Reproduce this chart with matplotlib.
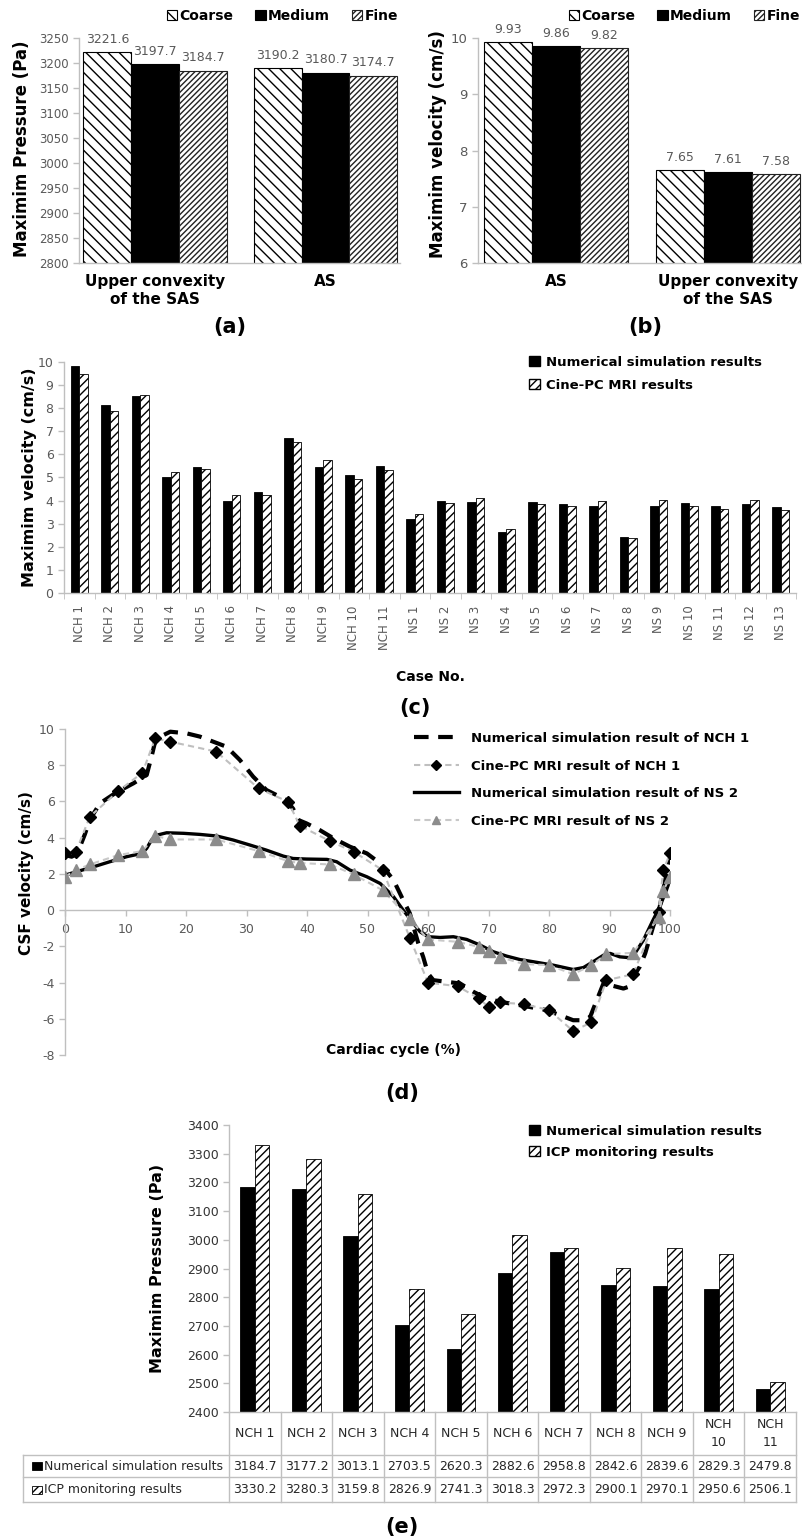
import matplotlib
matplotlib.use("Agg")
import matplotlib.pyplot as plt
from matplotlib.patches import Rectangle, Patch
from matplotlib.lines import Line2D
import numpy as np

plt.rcParams['font.family'] = ['DejaVu Sans']
plt.rcParams['hatch.linewidth'] = 1.0
plt.rcParams['axes.unicode_minus'] = False

# ---------------- data ----------------
mesh_levels = ['Coarse', 'Medium', 'Fine']

pressure_sites = ['Upper convexity\nof the SAS', 'AS']
pressure_coarse = [3221.6, 3190.2]
pressure_medium = [3197.7, 3180.7]
pressure_fine = [3184.7, 3174.7]

velocity_sites = ['AS', 'Upper convexity\nof the SAS']
velocity_coarse = [9.93, 7.65]
velocity_medium = [9.86, 7.61]
velocity_fine = [9.82, 7.58]

cases = ['NCH 1', 'NCH 2', 'NCH 3', 'NCH 4', 'NCH 5', 'NCH 6', 'NCH 7', 'NCH 8',
         'NCH 9', 'NCH 10', 'NCH 11', 'NS 1', 'NS 2', 'NS 3', 'NS 4', 'NS 5',
         'NS 6', 'NS 7', 'NS 8', 'NS 9', 'NS 10', 'NS 11', 'NS 12', 'NS 13']
vel_sim = [9.81, 8.13, 8.52, 5.00, 5.47, 4.00, 4.39, 6.72, 5.47, 5.11, 5.50,
           3.21, 4.00, 3.96, 2.65, 3.96, 3.87, 3.78, 2.42, 3.78, 3.90, 3.76, 3.87, 3.71]
vel_mri = [9.47, 7.88, 8.55, 5.25, 5.37, 4.26, 4.26, 6.55, 5.76, 4.92, 5.32,
           3.40, 3.90, 4.10, 2.75, 3.87, 3.76, 4.00, 2.37, 4.03, 3.76, 3.64, 4.03, 3.61]

mri_cycle = [0, 1.8, 4.1, 8.8, 12.8, 14.9, 17.4, 25.0, 32.0, 36.9, 38.8, 43.8, 47.7,
             52.5, 57.0, 60.0, 64.9, 68.4, 70.0, 71.9, 75.9, 80.0, 84.0, 87.0, 89.5,
             93.9, 98.1, 98.9, 100]
mri_nch1 = [3.13, 3.22, 5.16, 6.57, 7.59, 9.48, 9.30, 8.75, 6.72, 5.98, 4.66, 3.81, 3.22,
            2.21, -1.53, -4.01, -4.20, -4.88, -5.34, -5.10, -5.19, -5.52, -6.68, -6.20, -3.87,
            -3.54, -0.10, 2.21, 3.13]
mri_ns2 = [1.84, 2.21, 2.52, 3.04, 3.26, 4.10, 3.90, 3.90, 3.26, 2.70, 2.60, 2.52, 1.97,
           1.10, -0.50, -1.62, -1.75, -2.03, -2.25, -2.60, -2.98, -3.04, -3.54, -3.04, -2.43,
           -2.36, -0.40, 1.07, 1.84]

sim_nch1_cycle = [0, 1.1, 2.0, 3.3, 4.1, 5.8, 8.5, 11.3, 13.5, 14.3, 14.9, 16.3, 17.4, 20.1,
                  22.3, 26.7, 28.9, 31.1, 33.3, 36.6, 37.7, 38.6, 39.9, 42.1, 44.4, 47.1,
                  49.9, 52.1, 54.3, 55.9, 57.0, 57.6, 58.4, 59.2, 60.0, 60.9, 63.1, 65.3,
                  67.5, 69.7, 71.9, 75.2, 79.6, 81.8, 84.0, 85.7, 86.8, 87.9, 89.0, 90.1,
                  92.3, 93.1, 93.9, 95.0, 95.9, 97.2, 98.3, 99.2, 100]
sim_nch1 = [3.04, 2.95, 3.10, 4.20, 5.00, 5.90, 6.50, 7.00, 7.46, 8.47, 9.30, 9.67, 9.85, 9.76,
            9.58, 9.02, 8.29, 7.37, 6.63, 6.08, 5.60, 4.97, 4.79, 4.42, 3.96, 3.50,
            3.13, 2.58, 1.66, 0.55, -0.18, -0.92, -1.84, -2.58, -3.50, -3.87, -3.96, -4.05,
            -4.51, -4.88, -5.06, -5.25, -5.52, -5.80, -6.08, -6.08, -5.90, -4.97, -4.05, -4.14,
            -4.33, -4.24, -3.68, -3.13, -2.39, -0.92, 0.18, 1.66, 2.90]

sim_ns2_cycle = [0, 1.9, 4.7, 7.4, 10.2, 12.7, 13.5, 14.3, 15.2, 16.8, 19.6, 22.3, 25.1, 27.8,
                 30.6, 33.3, 36.1, 37.7, 39.9, 43.3, 44.9, 47.1, 49.9, 52.1, 54.3, 55.9, 57.6,
                 58.7, 60.0, 62.0, 64.2, 66.4, 68.6, 70.8, 73.0, 75.2, 77.4, 80.7, 84.0, 85.7,
                 87.3, 89.0, 90.1, 91.7, 93.4, 94.2, 95.6, 97.2, 98.3, 99.4, 100]
sim_ns2 = [1.93, 2.12, 2.39, 2.67, 2.95, 3.13, 3.41, 3.87, 4.14, 4.27, 4.24, 4.18, 4.09, 3.87,
           3.59, 3.31, 2.98, 2.85, 2.82, 2.80, 2.67, 2.21, 1.84, 1.47, 0.74, 0.00, -0.74,
           -1.20, -1.47, -1.51, -1.47, -1.62, -1.93, -2.30, -2.54, -2.73, -2.85, -3.04, -3.28, -3.17,
           -2.85, -2.49, -2.39, -2.58, -2.63, -2.39, -1.66, -0.55, 0.18, 1.10, 1.66]

icp_cases = ['NCH 1', 'NCH 2', 'NCH 3', 'NCH 4', 'NCH 5', 'NCH 6', 'NCH 7', 'NCH 8',
             'NCH 9', 'NCH 10', 'NCH 11']
icp_sim = [3184.7, 3177.2, 3013.1, 2703.5, 2620.3, 2882.6, 2958.8, 2842.6, 2839.6, 2829.3, 2479.8]
icp_meas = [3330.2, 3280.3, 3159.8, 2826.9, 2741.3, 3018.3, 2972.3, 2900.1, 2970.1, 2950.6, 2506.1]

# ---------------- helpers ----------------
W, H = 802, 1536
fig = plt.figure(figsize=(W / 100, H / 100), dpi=100)

AXIS_GRAY = '#bfbfbf'
TICK_TXT = '#595959'


def box(l, t, r, b):
    return [l / W, 1 - b / H, (r - l) / W, (b - t) / H]


def fx(px):
    return px / W


def fy(py):
    return 1 - py / H


def style_axes(ax, tick_size=8.5):
    for s in ['top', 'right']:
        ax.spines[s].set_visible(False)
    for s in ['left', 'bottom']:
        ax.spines[s].set_color(AXIS_GRAY)
        ax.spines[s].set_linewidth(1.0)
    ax.tick_params(colors=AXIS_GRAY, labelcolor=TICK_TXT, labelsize=tick_size,
                   length=4, width=1.0)


mesh_styles = [dict(facecolor='white', edgecolor='black', hatch='\\\\\\'),
               dict(facecolor='black', edgecolor='black'),
               dict(facecolor='white', edgecolor='#222222', hatch='//////')]


def mesh_panel(rect, sites, series, ylim, yticks, fmt, tick_size):
    ax = fig.add_axes(rect)
    x = np.arange(len(sites))
    bw = 0.28
    for k, (vals, st) in enumerate(zip(series, mesh_styles)):
        pos = x + (k - 1) * bw
        ax.bar(pos, vals, bw, linewidth=0.8, **st)
        for p, v in zip(pos, vals):
            ax.annotate(fmt.format(v), (p, v), xytext=(0, 4.5), textcoords='offset points',
                        ha='center', va='bottom', fontsize=9, color=TICK_TXT)
    ax.set_ylim(*ylim)
    ax.set_yticks(yticks)
    ax.set_xticks(x)
    ax.set_xticklabels(sites, fontsize=11, fontweight='bold', color='black')
    style_axes(ax, tick_size)
    ax.tick_params(axis='x', length=0, pad=8, labelcolor='black', labelsize=11)
    return ax


def mesh_legend(right_px):
    handles = [Patch(linewidth=0.8, **st) for st in mesh_styles]
    fig.legend(handles, mesh_levels, ncol=3, loc='center right',
               bbox_to_anchor=(fx(right_px), fy(16)), frameon=False,
               prop={'weight': 'bold', 'size': 10}, handlelength=0.75, handleheight=0.75,
               handletextpad=0.15, columnspacing=1.6, borderpad=0, borderaxespad=0)


# ---------------- (a) pressure mesh study ----------------
ax_a = mesh_panel(box(79, 38, 400, 263), pressure_sites,
                  [pressure_coarse, pressure_medium, pressure_fine],
                  (2800, 3250), np.arange(2800, 3251, 50), '{:.1f}', 8.5)
ax_a.set_xlim(-0.446, 1.437)
fig.text(fx(22), fy(149), 'Maximim Pressure (Pa)', rotation=90, ha='center', va='center',
         fontsize=12, fontweight='bold')
mesh_legend(398)
fig.text(fx(230), fy(327), '(a)', ha='center', va='center', fontsize=15, fontweight='bold')

# ---------------- (b) velocity mesh study ----------------
ax_b = mesh_panel(box(478, 38, 802, 263), velocity_sites,
                  [velocity_coarse, velocity_medium, velocity_fine],
                  (6, 10), np.arange(6, 11, 1), '{:.2f}', 9.5)
ax_b.set_xlim(-0.453, 1.43)
fig.text(fx(438), fy(144), 'Maximim velocity (cm/s)', rotation=90, ha='center', va='center',
         fontsize=12, fontweight='bold')
mesh_legend(800)
fig.text(fx(645), fy(327), '(b)', ha='center', va='center', fontsize=15, fontweight='bold')

# ---------------- (c) maximum velocity per case ----------------
ax_c = fig.add_axes(box(64, 362, 796, 593))
xc = np.arange(len(cases)) + 0.5
ax_c.bar(xc - 0.14, vel_sim, 0.28, color='black', edgecolor='black', linewidth=0.6)
ax_c.bar(xc + 0.14, vel_mri, 0.28, facecolor='white', edgecolor='black', hatch='////',
         linewidth=0.6)
ax_c.set_xlim(0, len(cases))
ax_c.set_ylim(0, 10)
ax_c.set_yticks(range(0, 11))
style_axes(ax_c, 9)
ax_c.set_xticks(xc)
ax_c.set_xticklabels(cases, rotation=90, fontsize=8.5)
ax_c.set_xticks(np.arange(len(cases) + 1), minor=True)
ax_c.tick_params(axis='x', which='major', length=0, pad=9)
ax_c.tick_params(axis='x', which='minor', length=4, color=AXIS_GRAY)
fig.text(fx(30), fy(477), 'Maximim velocity (cm/s)', rotation=90, ha='center', va='center',
         fontsize=11.5, fontweight='bold')
fig.text(fx(430), fy(677), 'Case No.', ha='center', va='center', fontsize=10, fontweight='bold')
fig.legend([Patch(facecolor='black', edgecolor='black'),
            Patch(facecolor='white', edgecolor='black', hatch='////')],
           ['Numerical simulation results', 'Cine-PC MRI results'],
           loc='upper left', bbox_to_anchor=(fx(529), fy(356)), frameon=False,
           prop={'weight': 'bold', 'size': 9.5}, handlelength=0.8, handleheight=0.8,
           handletextpad=0.5, labelspacing=0.75, borderpad=0, borderaxespad=0)
fig.text(fx(415), fy(708), '(c)', ha='center', va='center', fontsize=15, fontweight='bold')

# ---------------- (d) CSF velocity over the cardiac cycle ----------------
ax_d = fig.add_axes(box(65, 729, 670, 1055))
l1, = ax_d.plot(sim_nch1_cycle, sim_nch1, color='black', lw=3.0,
                linestyle=(0, (3.5, 2.3)), solid_capstyle='butt', zorder=3)
l2, = ax_d.plot(mri_cycle, mri_nch1, color='#bfbfbf', lw=1.5, linestyle=(0, (3, 2)),
                marker='D', markersize=6.5, markerfacecolor='black', markeredgecolor='black',
                zorder=4)
l3, = ax_d.plot(sim_ns2_cycle, sim_ns2, color='black', lw=2.4, zorder=3)
l4, = ax_d.plot(mri_cycle, mri_ns2, color='#c8c8c8', lw=1.5, linestyle=(0, (3, 2)),
                marker='^', markersize=8, markerfacecolor='#8c8c8c', markeredgecolor='#8c8c8c',
                zorder=4)
ax_d.set_xlim(0, 100)
ax_d.set_ylim(-8, 10)
ax_d.set_yticks(range(-8, 11, 2))
ax_d.set_xticks(range(0, 101, 10))
style_axes(ax_d, 9)
ax_d.spines['bottom'].set_position(('data', 0))
ax_d.tick_params(axis='x', pad=5)
fig.text(fx(27), fy(873), 'CSF velocity (cm/s)', rotation=90, ha='center', va='center',
         fontsize=11, fontweight='bold')
fig.text(fx(394), fy(1050), 'Cardiac cycle (%)', ha='center', va='center', fontsize=10,
         fontweight='bold')
fig.legend([l1, l2, l3, l4],
           ['Numerical simulation result of NCH 1', 'Cine-PC MRI result of NCH 1',
            'Numerical simulation result of NS 2', 'Cine-PC MRI result of NS 2'],
           loc='upper left', bbox_to_anchor=(fx(414), fy(732)), frameon=False,
           prop={'weight': 'bold', 'size': 9.5}, handlelength=3.4, handletextpad=0.9,
           labelspacing=1.1, borderpad=0, borderaxespad=0, numpoints=1, markerscale=0.8)
fig.text(fx(402), fy(1093), '(d)', ha='center', va='center', fontsize=15, fontweight='bold')

# ---------------- (e) maximum pressure vs ICP monitoring ----------------
ax_e = fig.add_axes(box(229, 1125, 796, 1412))
xe = np.arange(len(icp_cases)) + 0.5
ax_e.bar(xe - 0.14, icp_sim, 0.28, color='black', edgecolor='black', linewidth=0.6)
ax_e.bar(xe + 0.14, icp_meas, 0.28, facecolor='white', edgecolor='black', hatch='////',
         linewidth=0.6)
ax_e.set_xlim(0, len(icp_cases))
ax_e.set_ylim(2400, 3400)
ax_e.set_yticks(range(2400, 3401, 100))
style_axes(ax_e, 9)
ax_e.tick_params(axis='y', labelcolor='#333333')
ax_e.set_xticks([])
fig.text(fx(158), fy(1268), 'Maximim Pressure (Pa)', rotation=90, ha='center', va='center',
         fontsize=11.5, fontweight='bold')
fig.legend([Patch(facecolor='black', edgecolor='black'),
            Patch(facecolor='white', edgecolor='black', hatch='////')],
           ['Numerical simulation results', 'ICP monitoring results'],
           loc='upper left', bbox_to_anchor=(fx(529), fy(1125)), frameon=False,
           prop={'weight': 'bold', 'size': 9.5}, handlelength=0.8, handleheight=0.8,
           handletextpad=0.5, labelspacing=0.6, borderpad=0, borderaxespad=0)

# data table under the bars
ax_t = fig.add_axes(box(23, 1412, 796, 1502))
ax_t.set_xlim(-4.0, len(icp_cases))
ax_t.set_ylim(90, 0)
ax_t.axis('off')
TBL = '#c0c0c0'
for yy in [43, 65, 90]:
    ax_t.plot([-4.0, len(icp_cases)], [yy, yy], color=TBL, lw=1.0, clip_on=False)
for xx in range(len(icp_cases) + 1):
    ax_t.plot([xx, xx], [0, 90], color=TBL, lw=1.0, clip_on=False)
ax_t.plot([-4.0, -4.0], [43, 90], color=TBL, lw=1.0, clip_on=False)
for i, name in enumerate(icp_cases):
    label = name.replace(' ', '\n') if len(name) > 5 else name
    ax_t.text(i + 0.5, 21.5, label, ha='center', va='center', fontsize=9, color='#262626',
              linespacing=1.45)
    ax_t.text(i + 0.5, 54, f'{icp_sim[i]:.1f}', ha='center', va='center', fontsize=9,
              color='#262626')
    ax_t.text(i + 0.5, 77.5, f'{icp_meas[i]:.1f}', ha='center', va='center', fontsize=9,
              color='#262626')
key_w = 0.19
ax_t.add_patch(Rectangle((-3.83, 50), key_w, 8, facecolor='black', edgecolor='black', lw=0.6))
ax_t.add_patch(Rectangle((-3.83, 73.5), key_w, 8, facecolor='white', edgecolor='black',
                         hatch='////', lw=0.6))
ax_t.text(-3.6, 54, 'Numerical simulation results', ha='left', va='center', fontsize=9,
          color='#262626')
ax_t.text(-3.6, 77.5, 'ICP monitoring results', ha='left', va='center', fontsize=9,
          color='#262626')
fig.text(fx(402), fy(1527), '(e)', ha='center', va='center', fontsize=15, fontweight='bold')

fig.savefig('out.png', dpi=100)
